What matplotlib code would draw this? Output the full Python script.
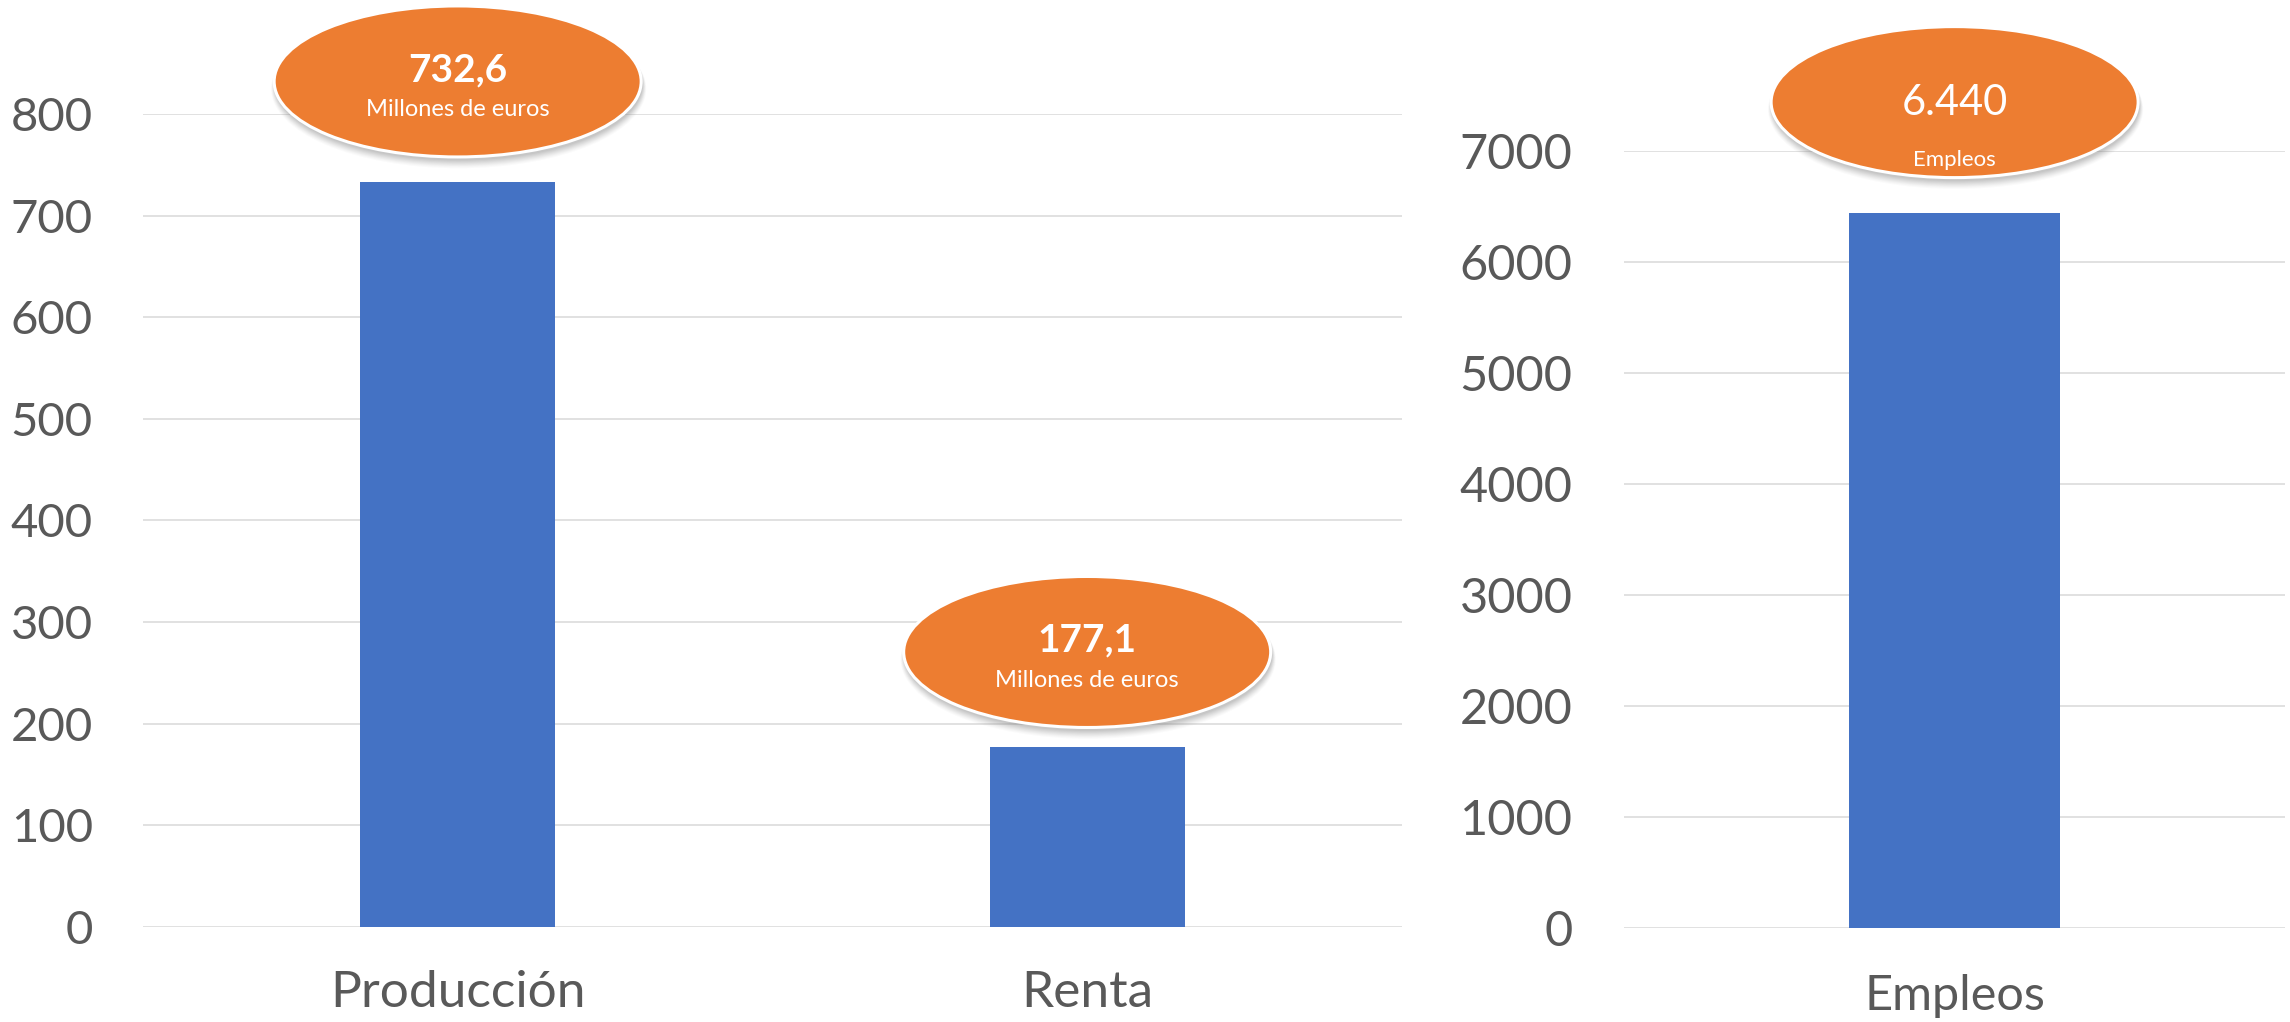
import matplotlib
matplotlib.use("Agg")
import matplotlib.pyplot as plt
from matplotlib.patches import Ellipse
from matplotlib.transforms import ScaledTranslation

# DATA
left_categories = ["Producción", "Renta"]
left_values = [732.6, 177.1]
left_value_labels = ["732,6", "177,1"]
left_unit = "Millones de euros"
left_yticks = list(range(0, 801, 100))

right_categories = ["Empleos"]
right_values = [6440]
right_value_labels = ["6.440"]
right_unit = "Empleos"
right_yticks = list(range(0, 7001, 1000))

# STYLE
BAR_COLOR = "#4472C4"
BUBBLE_COLOR = "#ED7D31"
GRID_COLOR = "#D9D9D9"
TEXT_COLOR = "#595959"

plt.rcParams["font.family"] = ["Lato", "DejaVu Sans"]

fig = plt.figure(figsize=(22.9, 10.22), dpi=100)
ax_left = fig.add_axes([0.0624, 0.093, 0.5498, 0.7955])
ax_right = fig.add_axes([0.7092, 0.092, 0.2887, 0.7603])


def style_axis(ax, yticks, ytick_size, ytick_pad, xtick_size, xtick_pad):
    ax.set_ylim(yticks[0], yticks[-1])
    ax.set_yticks(yticks)
    ax.grid(axis="y", color=GRID_COLOR, linewidth=1.1)
    ax.set_axisbelow(True)
    for side in ["top", "right", "left", "bottom"]:
        ax.spines[side].set_visible(False)
    ax.tick_params(axis="y", length=0, labelsize=ytick_size, pad=ytick_pad,
                   labelcolor=TEXT_COLOR)
    ax.tick_params(axis="x", length=0, labelsize=xtick_size, pad=xtick_pad,
                   labelcolor=TEXT_COLOR)


def draw_bubble(ax, x, y, rise_in, value_text, unit_text, value_style, unit_style):
    # Ellipse in inches, anchored at the top of the bar
    trans = fig.dpi_scale_trans + ScaledTranslation(x, y, ax.transData)
    w, h = 3.67, 1.51
    for k, a in zip(range(8, 0, -1), [0.03, 0.04, 0.05, 0.06, 0.07, 0.08, 0.09, 0.1]):
        shadow = Ellipse((0.01, rise_in - 0.025 - k * 0.006), w + k * 0.01, h + k * 0.01,
                         transform=trans, facecolor="#7F7F7F", edgecolor="none",
                         alpha=a, clip_on=False, zorder=4)
        ax.add_patch(shadow)
    bubble = Ellipse((0, rise_in), w, h, transform=trans, facecolor=BUBBLE_COLOR,
                     edgecolor="white", linewidth=2.2, clip_on=False, zorder=5)
    ax.add_patch(bubble)
    rise_pt = rise_in * 72
    ax.annotate(value_text, xy=(x, y), xytext=(0, rise_pt + value_style["dy"]),
                textcoords="offset points", ha="center", va="baseline",
                color="white", fontsize=value_style["size"],
                fontweight=value_style["weight"], zorder=6, annotation_clip=False)
    ax.annotate(unit_text, xy=(x, y), xytext=(0, rise_pt + unit_style["dy"]),
                textcoords="offset points", ha="center", va="baseline",
                color="white", fontsize=unit_style["size"], zorder=6,
                annotation_clip=False)


# LEFT CHART
style_axis(ax_left, left_yticks, 34, 36, 37, 31)
x_left = list(range(len(left_categories)))
ax_left.bar(x_left, left_values, width=0.31, color=BAR_COLOR, zorder=3)
ax_left.set_xticks(x_left, left_categories)
ax_left.set_xlim(-0.5, len(left_categories) - 0.5)
left_rise = [1.01, 0.95]
for xi, val, lab, rise in zip(x_left, left_values, left_value_labels, left_rise):
    draw_bubble(ax_left, xi, val, rise, lab, left_unit,
                {"size": 28, "weight": "bold", "dy": 0},
                {"size": 17, "dy": -25})

# RIGHT CHART
style_axis(ax_right, right_yticks, 35, 37, 35, 33)
x_right = list(range(len(right_categories)))
ax_right.bar(x_right, right_values, width=0.32, color=BAR_COLOR, zorder=3)
ax_right.set_xticks(x_right, right_categories)
ax_right.set_xlim(-0.5, len(right_categories) - 0.5)
for xi, val, lab in zip(x_right, right_values, right_value_labels):
    draw_bubble(ax_right, xi, val, 1.11, lab, right_unit,
                {"size": 30, "weight": "normal", "dy": -9},
                {"size": 16, "dy": -46})

plt.savefig("out.png", dpi=100)
plt.close()
